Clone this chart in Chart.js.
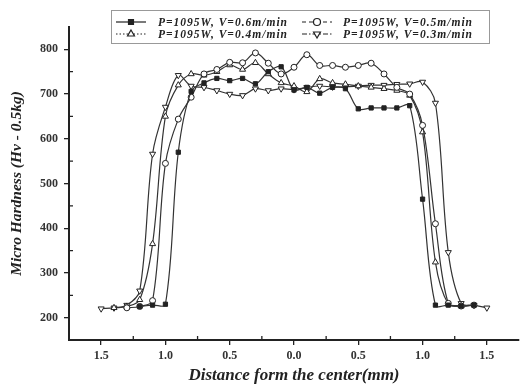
<!DOCTYPE html>
<html>
<head>
<meta charset="utf-8">
<script src="https://cdn.jsdelivr.net/npm/chart.js@4"></script>
<style>
  html, body { margin: 0; padding: 0; background: #fff; }
  #wrap { width: 524px; height: 390px; }
</style>
</head>
<body>
<div id="wrap"><canvas id="chart" width="524" height="390"></canvas></div>
<script>
// Data (distance in mm, left side negative)
const labels = ['P=1095W, V=0.6m/min', 'P=1095W, V=0.5m/min', 'P=1095W, V=0.4m/min', 'P=1095W, V=0.3m/min'];

const x06 = [-1.2,-1.1,-1.0,-0.9,-0.8,-0.7,-0.6,-0.5,-0.4,-0.3,-0.2,-0.1,0,0.1,0.2,0.3,0.4,0.5,0.6,0.7,0.8,0.9,1.0,1.1,1.2,1.3,1.4];
const y06 = [225,228,230,570,706,725,735,730,735,723,750,761,709,715,702,715,712,667,669,669,669,674,465,228,228,226,228];

const x05 = [-1.3,-1.2,-1.1,-1.0,-0.9,-0.8,-0.7,-0.6,-0.5,-0.4,-0.3,-0.2,-0.1,0,0.1,0.2,0.3,0.4,0.5,0.6,0.7,0.8,0.9,1.0,1.1,1.2,1.3,1.4];
const y05 = [222,225,238,545,644,693,745,755,771,770,792,769,745,760,788,764,764,760,764,769,745,715,700,630,410,232,226,228];

const x04 = [-1.4,-1.3,-1.2,-1.1,-1.0,-0.9,-0.8,-0.7,-0.6,-0.5,-0.4,-0.3,-0.2,-0.1,0,0.1,0.2,0.3,0.4,0.5,0.6,0.7,0.8,0.9,1.0,1.1,1.2,1.3];
const y04 = [222,225,240,365,650,720,745,742,750,765,755,770,745,725,718,705,734,725,722,718,715,712,708,697,615,324,230,226];

const x03 = [-1.5,-1.4,-1.3,-1.2,-1.1,-1.0,-0.9,-0.8,-0.7,-0.6,-0.5,-0.4,-0.3,-0.2,-0.1,0,0.1,0.2,0.3,0.4,0.5,0.6,0.7,0.8,0.9,1.0,1.1,1.2,1.3,1.4,1.5];
const y03 = [220,222,228,260,566,671,742,718,715,708,700,697,712,708,712,710,715,718,716,716,718,720,720,722,723,727,680,346,232,228,222];

const xTicks = [-1.5,-1.0,-0.5,0,0.5,1.0,1.5];
const xMinor = [-1.25,-0.75,-0.25,0.25,0.75,1.25];
const yTicks = [200,300,400,500,600,700,800];
const yMinor = [250,350,450,550,650,750];

const serif = '"Liberation Serif", "DejaVu Serif", serif';
const ink = '#222';

function pts(xs, ys) {
    return xs.map((v, i) => ({ x: v, y: ys[i] }));
}

const styles = [
    { pointStyle: 'rect', fill: ink, dash: [], r: 3 },
    { pointStyle: 'circle', fill: '#fff', dash: [4, 3], r: 3 },
    { pointStyle: 'triangle', fill: '#fff', dash: [1.5, 2], r: 3.5 },
    { pointStyle: 'triangle', rotation: 180, fill: '#fff', dash: [5, 2, 1.5, 2], r: 3.5 }
];

const series = [pts(x06, y06), pts(x05, y05), pts(x04, y04), pts(x03, y03)];

// minor ticks point inwards, like the original
const minorTicks = {
    id: 'minorTicks',
    afterDraw(chart) {
        const { ctx, scales: { x, y } } = chart;
        ctx.save();
        ctx.strokeStyle = ink;
        ctx.lineWidth = 1.3;
        ctx.beginPath();
        yMinor.forEach(v => {
            const py = y.getPixelForValue(v);
            ctx.moveTo(x.left, py);
            ctx.lineTo(x.left + 4, py);
        });
        xMinor.forEach(v => {
            const px = x.getPixelForValue(v);
            ctx.moveTo(px, y.bottom);
            ctx.lineTo(px, y.bottom - 4);
        });
        ctx.stroke();
        ctx.restore();
    }
};

// boxed legend, two columns
const boxLegend = {
    id: 'boxLegend',
    afterDraw(chart) {
        const ctx = chart.ctx;
        ctx.save();
        ctx.strokeStyle = '#999';
        ctx.lineWidth = 1;
        ctx.strokeRect(111.5, 10.5, 378, 33);
        const cols = [{ lx: 116, tx: 158 }, { lx: 302, tx: 343 }];
        const rows = [22, 34];
        labels.forEach((lab, i) => {
            const c = cols[i % 2], ry = rows[Math.floor(i / 2)], st = styles[i];
            ctx.strokeStyle = ink;
            ctx.lineWidth = 1.2;
            ctx.setLineDash(st.dash);
            ctx.beginPath();
            ctx.moveTo(c.lx, ry);
            ctx.lineTo(c.lx + 30, ry);
            ctx.stroke();
            ctx.setLineDash([]);
            ctx.fillStyle = st.fill;
            Chart.helpers.drawPoint(ctx, { pointStyle: st.pointStyle, radius: st.r + 0.5, rotation: st.rotation || 0, borderWidth: 1 }, c.lx + 15, ry);
            ctx.fillStyle = ink;
            ctx.font = 'italic bold 11.5px ' + serif;
            ctx.letterSpacing = '1px';
            ctx.textBaseline = 'middle';
            ctx.fillText(lab, c.tx, ry + 1);
            ctx.letterSpacing = '0px';
        });
        ctx.restore();
    }
};

new Chart(document.getElementById('chart'), {
    type: 'line',
    data: {
        datasets: series.map((d, i) => ({
            label: labels[i],
            data: d,
            borderColor: '#333',
            borderWidth: 1.2,
            tension: 0.35,
            pointStyle: styles[i].pointStyle,
            rotation: styles[i].rotation || 0,
            pointRadius: styles[i].r,
            pointBackgroundColor: styles[i].fill,
            pointBorderColor: ink,
            pointBorderWidth: 1
        }))
    },
    options: {
        responsive: false,
        animation: false,
        layout: { padding: { top: 27, right: 0, left: 0, bottom: 0 } },
        plugins: { legend: { display: false }, tooltip: { enabled: false } },
        scales: {
            x: {
                type: 'linear',
                min: -1.75,
                max: 1.75,
                afterBuildTicks: s => { s.ticks = xTicks.map(v => ({ value: v })); },
                afterFit: s => { s.height = 50; },
                grid: { display: true, drawOnChartArea: false, drawTicks: true, tickLength: 5, color: ink, lineWidth: 1.3 },
                border: { display: true, color: ink, width: 2 },
                ticks: {
                    padding: 4,
                    color: '#333',
                    font: { family: serif, size: 12, weight: 'bold' },
                    callback: v => Math.abs(v).toFixed(1)
                },
                title: {
                    display: true,
                    text: 'Distance form the center(mm)',
                    color: ink,
                    font: { family: serif, size: 17, weight: 'bold', style: 'italic' },
                    padding: { top: 0, bottom: 4 }
                }
            },
            y: {
                type: 'linear',
                min: 150,
                max: 850,
                afterBuildTicks: s => { s.ticks = yTicks.map(v => ({ value: v })); },
                afterFit: s => { s.width = 69; },
                grid: { display: true, drawOnChartArea: false, drawTicks: true, tickLength: 5, color: ink, lineWidth: 1.3 },
                border: { display: true, color: ink, width: 2 },
                ticks: {
                    padding: 6,
                    color: '#333',
                    font: { family: serif, size: 12, weight: 'bold' }
                },
                title: {
                    display: true,
                    text: 'Micro Hardness (Hv - 0.5kg)',
                    color: ink,
                    font: { family: serif, size: 15.5, weight: 'bold', style: 'italic' },
                    padding: { top: 8, bottom: 0 }
                }
            }
        }
    },
    plugins: [minorTicks, boxLegend]
});
</script>
</body>
</html>
